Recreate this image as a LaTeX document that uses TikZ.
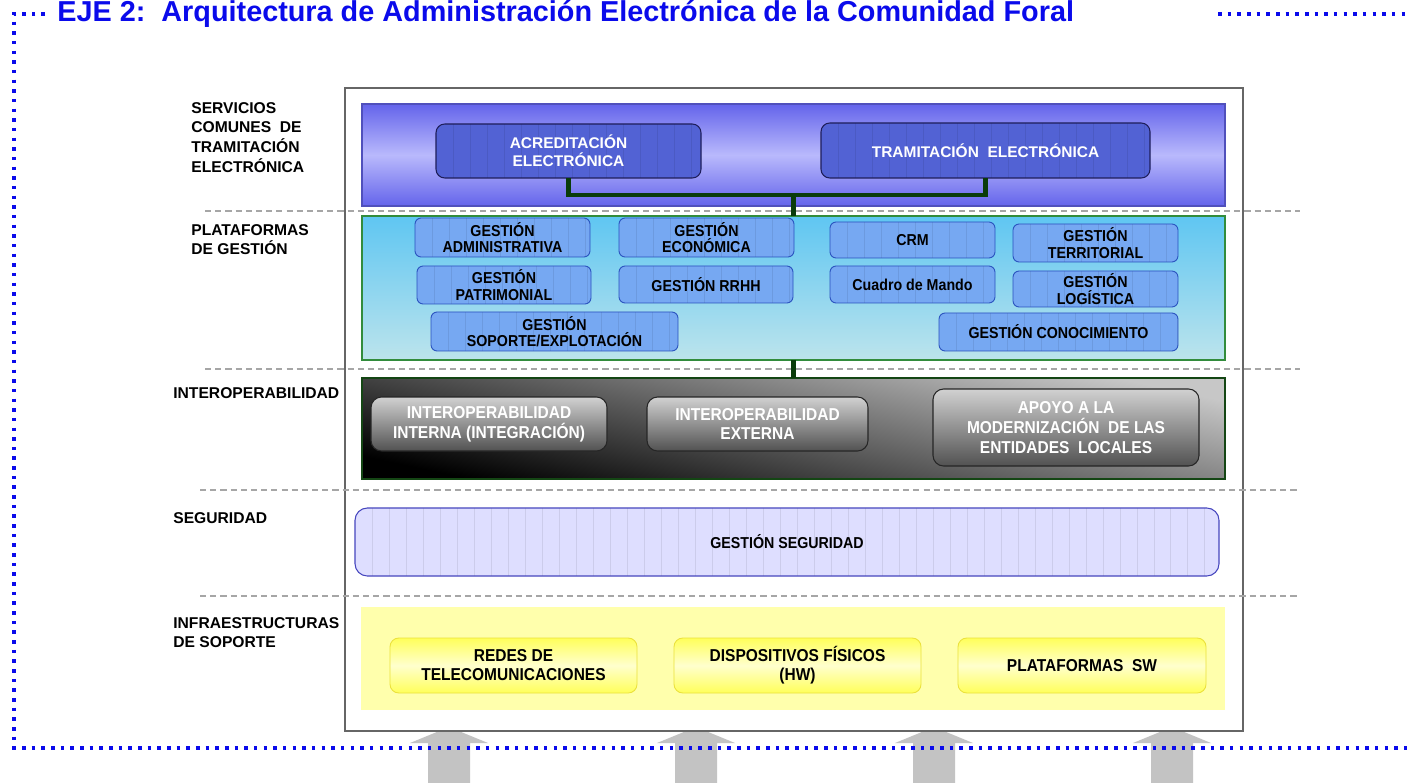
\documentclass[tikz,border=0pt]{standalone}
\usepackage{fontspec}
\setmainfont{Liberation Sans}
\newfontfamily\narrowsf[FakeStretch=0.9]{Liberation Sans}
\definecolor{titleblue}{RGB}{10,10,235}
\definecolor{svcblue}{RGB}{100,100,235}
\definecolor{svclight}{RGB}{185,185,252}
\definecolor{svcfill}{RGB}{82,98,212}
\definecolor{svcline}{RGB}{30,30,90}
\definecolor{plattop}{RGB}{95,198,242}
\definecolor{platbot}{RGB}{188,228,236}
\definecolor{platline}{RGB}{50,140,60}
\definecolor{mgmtfill}{RGB}{118,168,242}
\definecolor{mgmtline}{RGB}{40,80,190}
\definecolor{iopline}{RGB}{20,70,20}
\definecolor{secfill}{RGB}{222,222,255}
\definecolor{secline}{RGB}{70,70,190}
\definecolor{infrabg}{RGB}{255,255,172}
\definecolor{infraedge}{RGB}{255,255,90}
\definecolor{infralight}{RGB}{255,255,205}
\definecolor{infraline}{RGB}{235,225,60}
\definecolor{linkgreen}{RGB}{10,60,10}
\definecolor{arrowgray}{RGB}{195,195,195}
\tikzset{
    place/.style args={#1/#2/#3/#4}{at={(#1/2+#3/2,#2/2+#4/2)},
        minimum width=(#3-#1)*0.02cm, minimum height=(#4-#2)*0.02cm},
    textured/.style={path picture={
        \foreach \k in {1,...,60}
            \draw[black, opacity=0.08, line width=0.4pt]
                ([xshift=\k*0.34cm]path picture bounding box.south west) --
                ([xshift=\k*0.34cm]path picture bounding box.north west);
    }},
    mainframe/.style={draw=black!60, line width=1.1pt, fill=white, inner sep=0, outer sep=0},
    sepline/.style={draw=black!35, line width=0.8pt, dash pattern=on 3.5pt off 2.3pt},
    bluedots/.style={draw=titleblue, line width=2.2pt, dash pattern=on 2pt off 3.5pt},
    svclayer/.style={top color=svcblue, bottom color=svcblue, middle color=svclight, draw=svcblue!80!black, line width=0.6pt, inner sep=0, outer sep=0},
    svcbox/.style={rounded corners=5pt, fill=svcfill, draw=svcline, line width=0.6pt, textured, inner sep=0, outer sep=0, align=center, text=white, font=\bfseries\fontsize{8.8}{10.2}\selectfont},
    platlayer/.style={top color=plattop, bottom color=platbot, draw=platline, line width=0.6pt, inner sep=0, outer sep=0},
    mgmtbox/.style={rounded corners=3.5pt, fill=mgmtfill, draw=mgmtline, line width=0.5pt, textured, inner sep=0, outer sep=0, align=center, font=\narrowsf\bfseries\fontsize{9}{9.2}\selectfont},
    ioplayer/.style={top color=black!22, bottom color=black, shading angle=-12, draw=iopline, line width=0.6pt, inner sep=0, outer sep=0},
    iopbox/.style={rounded corners=6pt, top color=black!18, bottom color=black!68, draw=black!85, line width=0.6pt, inner sep=0, outer sep=0, align=center, text=white, font=\narrowsf\bfseries\fontsize{9.8}{11.3}\selectfont},
    secbox/.style={rounded corners=7pt, fill=secfill, draw=secline, line width=0.6pt, textured, inner sep=0, outer sep=0, align=center, font=\narrowsf\bfseries\fontsize{9}{10}\selectfont},
    infralayer/.style={fill=infrabg, inner sep=0, outer sep=0},
    infrabox/.style={rounded corners=5pt, top color=infraedge, bottom color=infraedge, middle color=infralight, draw=infraline, line width=0.5pt, inner sep=0, outer sep=0, align=center, font=\narrowsf\bfseries\fontsize{9.8}{10.8}\selectfont},
    sidelabel/.style={anchor=north west, inner sep=0, align=left, font=\bfseries\fontsize{8.9}{11.2}\selectfont},
    link/.style={draw=linkgreen, line width=2.3pt},
    bigarrow/.style={fill=arrowgray}
}
\begin{document}
\begin{tikzpicture}[x=0.02cm, y=-0.02cm]
    \useasboundingbox (0,0) rectangle (1408,783);

    \node[anchor=base west, inner sep=0, text=titleblue, font=\bfseries\fontsize{16.4}{19}\selectfont] (title) at (57,21.5)
        {EJE 2:\ \ Arquitectura de Administración Electrónica de la Comunidad Foral};

    \foreach \ax in {449,696,934,1172}
        \fill[bigarrow] (\ax-21,790) -- (\ax-21,743) -- (\ax-39,743) -- (\ax,727)
            -- (\ax+39,743) -- (\ax+21,743) -- (\ax+21,790) -- cycle;

    \node[mainframe, place=345/88/1243/731] (frame) {};

    \draw[sepline] (205,211) -- (1300,211);
    \draw[sepline] (205,369) -- (1300,369);
    \draw[sepline] (200,490) -- (1297,490);
    \draw[sepline] (200,596) -- (1297,596);

    \node[sidelabel] (lsvc) at (191,102) {SERVICIOS\\COMUNES\ \ DE\\TRAMITACIÓN\\ELECTRÓNICA};
    \node[sidelabel] (lplat) at (191,224) {PLATAFORMAS\\DE GESTIÓN};
    \node[sidelabel] (liop) at (173,387) {INTEROPERABILIDAD};
    \node[sidelabel] (lsec) at (173,512) {SEGURIDAD};
    \node[sidelabel] (linfra) at (173,617) {INFRAESTRUCTURAS\\DE SOPORTE};

    \node[svclayer, place=362/104/1225/206] (svc) {};
    \node[svcbox, place=436/124/701/178] (acred) {ACREDITACIÓN\\ELECTRÓNICA};
    \node[svcbox, place=821/123/1150/178] (tram) {TRAMITACIÓN\ \ ELECTRÓNICA};

    \node[platlayer, place=362/216/1225/360] (plat) {};
    \node[mgmtbox, place=415/218/590/257] (gadm) {GESTIÓN\\ADMINISTRATIVA};
    \node[mgmtbox, place=619/218/794/257] (geco) {GESTIÓN\\ECONÓMICA};
    \node[mgmtbox, place=830/222/995/258] (crm) {CRM};
    \node[mgmtbox, place=1013/224/1178/262] (gter) {GESTIÓN\\TERRITORIAL};
    \node[mgmtbox, place=417/266/591/304] (gpat) {GESTIÓN\\PATRIMONIAL};
    \node[mgmtbox, place=619/266/793/303] (grrhh) {GESTIÓN RRHH};
    \node[mgmtbox, place=830/266/995/303] (cmando) {Cuadro de Mando};
    \node[mgmtbox, place=1013/271/1178/307] (glog) {GESTIÓN\\LOGÍSTICA};
    \node[mgmtbox, place=431/312/678/351] (gsop) {GESTIÓN\\SOPORTE/EXPLOTACIÓN};
    \node[mgmtbox, place=939/313/1178/351] (gcon) {GESTIÓN CONOCIMIENTO};

    \node[ioplayer, place=362/378/1225/479] (iop) {};
    \node[iopbox, place=371/397/607/451] (iopint) {INTEROPERABILIDAD\\INTERNA (INTEGRACIÓN)};
    \node[iopbox, place=647/397/868/451] (iopext) {INTEROPERABILIDAD\\EXTERNA};
    \node[iopbox, place=933/389/1199/466] (entloc) {APOYO A LA\\MODERNIZACIÓN\ \ DE LAS\\ENTIDADES\ \ LOCALES};

    \node[secbox, place=355/508/1219/576] (gseg) {GESTIÓN SEGURIDAD};

    \node[infralayer, place=361/607/1225/710] (infra) {};
    \node[infrabox, place=390/638/637/693] (redes) {REDES DE\\TELECOMUNICACIONES};
    \node[infrabox, place=674/638/921/693] (hw) {DISPOSITIVOS FÍSICOS\\(HW)};
    \node[infrabox, place=958/638/1206/693] (sw) {PLATAFORMAS\ \ SW};

    \coordinate (hub) at (793.5,195);
    \draw[link] (acred.south) |- (hub) -| (tram.south);
    \draw[link] (hub) -- (plat.north);
    \draw[link] (plat.south) -- (iop.north);

    \draw[bluedots] (45,14) -- (14,14) -- (14,748) -- (1408,748);
    \draw[bluedots] (1218,14) -- (1408,14);
\end{tikzpicture}
\end{document}
